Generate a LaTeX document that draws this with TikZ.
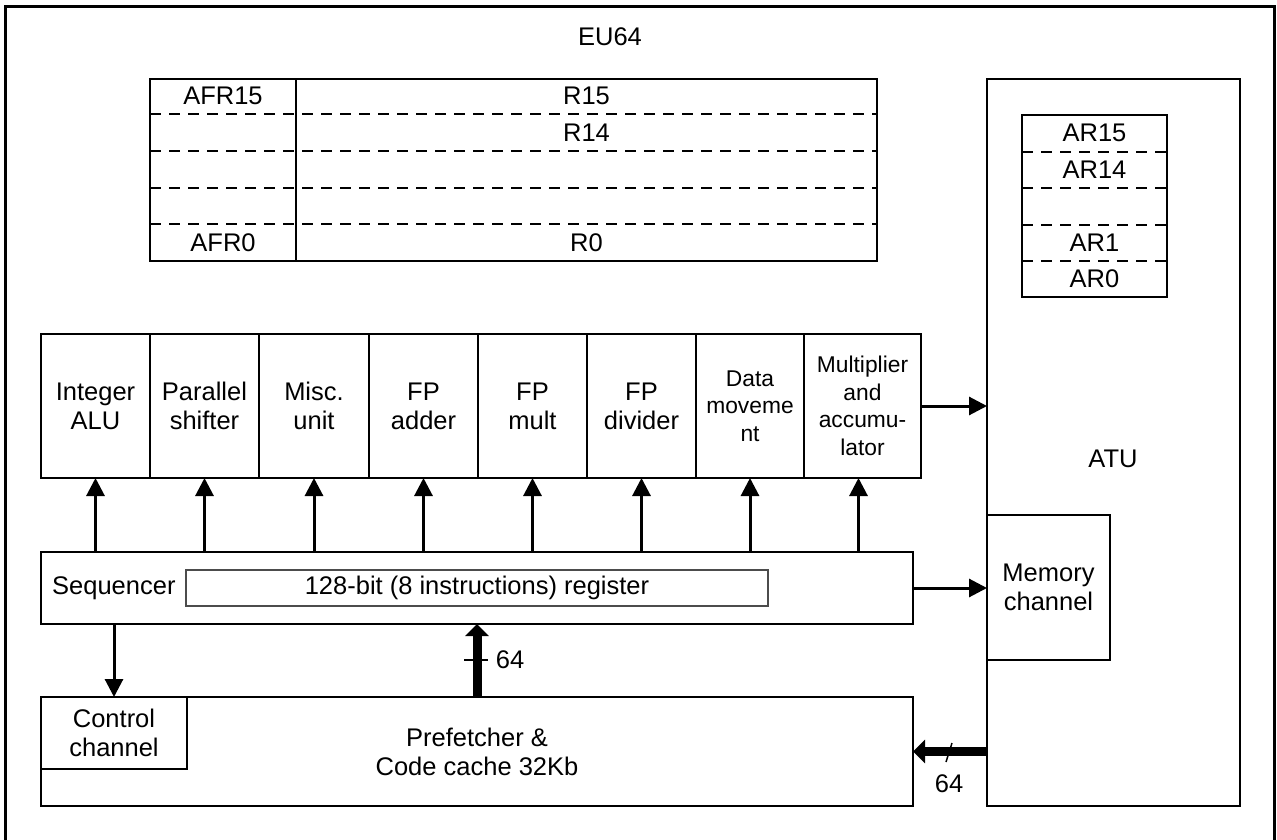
\documentclass[tikz,border=0pt]{standalone}
\usepackage{fontspec}
\setmainfont{Liberation Sans}
\usetikzlibrary{arrows.meta}
\begin{document}
\begin{tikzpicture}[x=1pt,y=-1pt,
  box/.style={draw, line width=2pt, inner sep=0pt, outer sep=0pt, anchor=center, align=center, font=\fontsize{25.5}{29}\selectfont},
  lbl/.style={font=\fontsize{25.5}{29}\selectfont, align=center, inner sep=0pt},
  smallbox/.style={box, font=\fontsize{22.8}{27.5}\selectfont},
  dsh/.style={line width=1.8pt, dash pattern=on 11pt off 8pt},
  arr/.style={line width=3pt, -{Triangle[length=18pt,width=18pt]}},
  bus/.style={line width=9pt, -{Triangle[length=12pt,width=23pt]}},
]
\useasboundingbox (0,0) rectangle (1277,840);
\draw[line width=3pt] (5,7) rectangle (1274,846);
\node[lbl] (eu) at (610,37) {EU64};

% register file
\node[box, minimum width=727pt, minimum height=182pt] (rf) at (513.5,170) {};
\draw[line width=2pt] (296,79) -- (296,261);
\foreach \y in {114,151,188,224} \draw[dsh] (150,\y) -- (877,\y);
\node[lbl] (afr15) at (223,96) {AFR15};
\node[lbl] (afr0) at (223,243) {AFR0};
\node[lbl] (r15) at (586.5,96) {R15};
\node[lbl] (r14) at (586.5,133) {R14};
\node[lbl] (r0) at (586.5,243) {R0};

% ATU
\node[box, minimum width=253pt, minimum height=727pt] (atu) at (1113.5,442.5) {};
\node[lbl] (atul) at (1113,459) {ATU};
\node[box, minimum width=145pt, minimum height=182pt] (ar) at (1094.5,206) {};
\foreach \y in {152,188,225,261} \draw[dsh] (1022,\y) -- (1167,\y);
\node[lbl] (ar15) at (1094.5,133) {AR15};
\node[lbl] (ar14) at (1094.5,170) {AR14};
\node[lbl] (ar1) at (1094.5,243) {AR1};
\node[lbl] (ar0) at (1094.5,279) {AR0};
\node[box, fill=white, minimum width=123pt, minimum height=145pt] (mem) at (1048.5,587.5) {Memory\\channel};

% functional units
\node[box, minimum width=109pt, minimum height=144pt] (u1) at (95.5,406) {Integer\\ALU};
\node[box, minimum width=109pt, minimum height=144pt] (u2) at (204.5,406) {Parallel\\shifter};
\node[box, minimum width=110pt, minimum height=144pt] (u3) at (314,406) {Misc.\\unit};
\node[box, minimum width=109pt, minimum height=144pt] (u4) at (423.5,406) {FP\\adder};
\node[box, minimum width=109pt, minimum height=144pt] (u5) at (532.5,406) {FP\\mult};
\node[box, minimum width=109pt, minimum height=144pt] (u6) at (641.5,406) {FP\\divider};
\node[smallbox, minimum width=108pt, minimum height=144pt] (u7) at (750,406) {Data\\moveme\\nt};
\node[smallbox, minimum width=117pt, minimum height=144pt] (u8) at (862.5,406) {Multiplier\\and\\accumu-\\lator};

% sequencer
\node[box, minimum width=872pt, minimum height=72pt] (seq) at (477,588) {};
\node[lbl, anchor=west] (seql) at (52,588) {Sequencer};
\node[box, draw=black!70, line width=1.3pt, minimum width=582pt, minimum height=36pt] (ireg) at (477,588) {128-bit (8 instructions) register};

% prefetcher
\node[box, minimum width=872pt, minimum height=109pt] (pf) at (477,751.5) {};
\node[lbl] (pfl) at (477,752) {Prefetcher \&\\Code cache 32Kb};
\node[box, minimum width=146pt, minimum height=72pt] (cc) at (114,733) {Control\\channel};

% arrows sequencer -> units
\foreach \u in {u1,u2,u3,u4,u5,u6,u7}
  \draw[arr] (\u.south |- seq.north) -- (\u.south);
\draw[arr] ([xshift=-4pt]u8.south |- seq.north) -- ([xshift=-4pt]u8.south);

\draw[arr] (u8.east) -- (u8.east -| atu.west);
\draw[arr] (seq.east) -- (seq.east -| mem.west);
\draw[arr] (cc.north |- seq.south) -- (cc.north);

% buses
\coordinate (t1) at (464,660);
\coordinate (t2) at (488,660);
\draw[line width=1.5pt] (t1) -- (t2);
\draw[bus] (pf.north) -- (pf.north |- seq.south);
\node[lbl] (b64a) at (510,660) {64};

\coordinate (s1) at (946,762);
\coordinate (s2) at (952,743);
\draw[line width=1.5pt] (s1) -- (s2);
\draw[bus] (pf.east -| atu.west) -- (pf.east);
\node[lbl] (b64b) at (949,784) {64};
\end{tikzpicture}
\end{document}
